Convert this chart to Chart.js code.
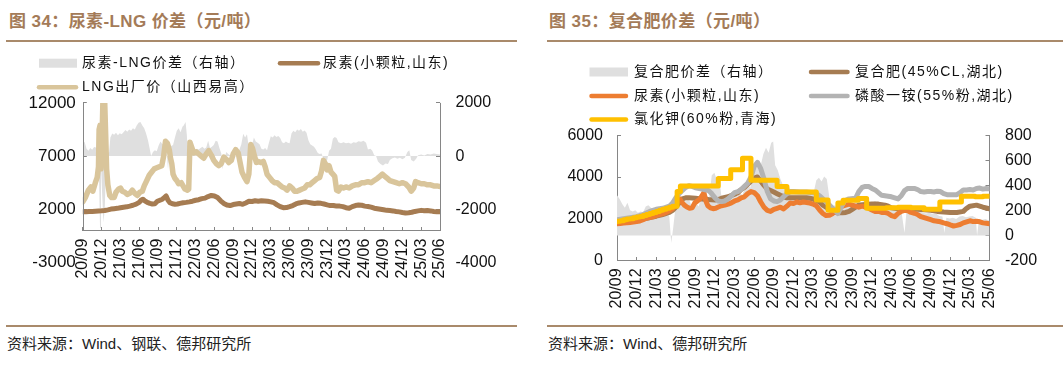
<!DOCTYPE html>
<html><head><meta charset="utf-8">
<script src="https://cdn.jsdelivr.net/npm/chart.js"></script>
<style>
html,body{margin:0;padding:0;background:#fff;}
body{width:1063px;height:366px;position:relative;overflow:hidden;font-family:"Liberation Sans","Noto Sans CJK SC",sans-serif;}
.title{position:absolute;top:12px;font-size:17px;font-weight:bold;color:#a47b58;white-space:nowrap;line-height:20px;letter-spacing:0.4px;}
.rule{position:absolute;height:2px;background:#a98a6b;}
.src{position:absolute;top:335px;font-size:15px;color:#222;white-space:nowrap;line-height:18px;}
canvas{position:absolute;}
</style></head>
<body>
<div class="title" style="left:9px">图 34：尿素-LNG 价差（元/吨）</div>
<div class="rule" style="left:6px;width:511px;top:40px"></div>
<div class="rule" style="left:6px;width:511px;top:325px"></div>
<div class="src" style="left:7px">资料来源：Wind、钢联、德邦研究所</div>
<div class="title" style="left:549px">图 35：复合肥价差（元/吨）</div>
<div class="rule" style="left:547px;width:516px;top:40px"></div>
<div class="rule" style="left:547px;width:516px;top:325px"></div>
<div class="src" style="left:548px">资料来源：Wind、德邦研究所</div>
<canvas id="c1" width="530" height="270" style="left:0;top:45px"></canvas>
<canvas id="c2" width="533" height="270" style="left:530px;top:45px"></canvas>
<script>
// x values are months since 2020-09
const tickLabels = ['20/09','20/12','21/03','21/06','21/09','21/12','22/03','22/06','22/09','22/12','23/03','23/06','23/09','23/12','24/03','24/06','24/09','24/12','25/03','25/06'];

const ureaSD = [[0,1760],[0.5,1770],[1,1790],[1.5,1800],[2,1820],[2.5,1840],[3,1860],[3.5,1890],[4,1950],[4.5,2020],[5,2060],[5.5,2090],[6,2150],[6.5,2200],[7,2230],[7.5,2300],[8,2380],[8.5,2480],[9,2650],[9.3,2850],[9.6,2950],[9.9,2800],[10.3,2650],[10.7,2560],[11.1,2500],[11.5,2520],[11.9,2750],[12.3,2850],[12.7,2950],[13.0,3100],[13.3,3250],[13.6,2850],[13.9,2620],[14.3,2520],[14.7,2480],[15.1,2500],[15.5,2560],[16.0,2620],[16.5,2650],[17.0,2700],[17.5,2760],[18.0,2850],[18.5,2900],[19.0,3000],[19.5,3050],[20.0,3200],[20.5,3300],[21.0,3250],[21.5,3100],[22.0,2800],[22.5,2550],[23.0,2400],[23.5,2350],[24.0,2450],[24.5,2500],[25.0,2550],[25.5,2470],[26.0,2600],[26.5,2750],[27.0,2730],[27.5,2800],[28.0,2760],[28.5,2800],[29.0,2780],[29.5,2750],[30.0,2700],[30.5,2620],[31.0,2420],[31.5,2250],[32.0,2150],[32.5,2160],[33.0,2250],[33.5,2350],[34.0,2500],[34.5,2600],[35.0,2650],[35.5,2700],[36.0,2650],[36.5,2600],[37.0,2550],[37.5,2600],[38.0,2560],[38.5,2500],[39.0,2420],[39.5,2350],[40.0,2360],[40.5,2300],[41.0,2300],[41.5,2250],[42.0,2150],[42.5,2100],[43.0,2250],[43.5,2350],[44.0,2400],[44.5,2380],[45.0,2300],[45.5,2260],[46.0,2200],[46.5,2100],[47.0,2050],[47.5,2000],[48.0,1950],[48.5,1900],[49.0,1880],[49.5,1850],[50.0,1800],[50.5,1760],[51.0,1700],[51.5,1650],[52.0,1680],[52.5,1720],[53.0,1800],[53.5,1850],[54.0,1900],[54.5,1860],[55.0,1880],[55.5,1850],[56.0,1800],[56.5,1780],[57.0,1760]];

const lngSX = [[0,2700],[0.4,3100],[0.9,3800],[1.3,4100],[1.6,3700],[2.0,4500],[2.3,5000],[2.5,6000],[2.6,9500],[2.75,9900],[2.9,5800],[3.05,8000],[3.2,12000],[3.5,12000],[3.65,9000],[3.8,5800],[4.0,4300],[4.3,3300],[4.6,3100],[5.0,3100],[5.3,3600],[5.7,3900],[6.0,4000],[6.3,3700],[6.7,3600],[7.1,3400],[7.5,3500],[7.9,3800],[8.3,3500],[8.7,3300],[9.1,3600],[9.5,3700],[9.8,4200],[10.2,4700],[10.6,5200],[11.0,5500],[11.4,5800],[11.8,5900],[12.2,6000],[12.6,6100],[12.9,7000],[13.2,8400],[13.5,8200],[13.8,7600],[14.0,6800],[14.2,6300],[14.4,5300],[14.7,4900],[15.0,4700],[15.3,4400],[15.7,4500],[16.0,4200],[16.3,3900],[16.7,3800],[16.9,3900],[17.1,8300],[17.4,7800],[17.7,7300],[18.1,7400],[18.5,7200],[18.9,7000],[19.3,6800],[19.7,7200],[20.1,7500],[20.5,7100],[20.9,6600],[21.3,6300],[21.7,6100],[22.1,6300],[22.5,6900],[22.9,6700],[23.3,6400],[23.7,6600],[24.0,7200],[24.4,7600],[24.8,7300],[25.1,6400],[25.4,5500],[25.8,5000],[26.2,4600],[26.5,5300],[26.8,8100],[27.1,7700],[27.4,7000],[27.7,6400],[28.0,6500],[28.4,6400],[28.8,6500],[29.1,6000],[29.4,5300],[29.8,5000],[30.2,4700],[30.6,4500],[31.0,4500],[31.4,4300],[31.8,4100],[32.2,4000],[32.6,3800],[33.0,4200],[33.4,4000],[33.8,3700],[34.2,3700],[34.6,3800],[35.0,3900],[35.4,4000],[35.8,4300],[36.2,4300],[36.6,4500],[37.0,4700],[37.4,4900],[37.8,5000],[38.1,5600],[38.4,6600],[38.7,6300],[39.0,5700],[39.3,6100],[39.6,5500],[39.9,5300],[40.2,5100],[40.5,3800],[40.8,3700],[41.2,4100],[41.6,4000],[42.0,4100],[42.5,4000],[43.0,4200],[43.5,4300],[44.0,4300],[44.5,4500],[45.0,4500],[45.5,4600],[46.0,4500],[46.5,4700],[47.0,4900],[47.4,5100],[47.8,5300],[48.2,5100],[48.6,4900],[49.0,4700],[49.5,4600],[50.0,4500],[50.5,4400],[51.0,4500],[51.5,4400],[52.0,4100],[52.4,3700],[52.8,4000],[53.1,4600],[53.5,4500],[54.0,4400],[54.5,4400],[55.0,4300],[55.5,4300],[56.0,4200],[56.5,4200],[57.0,4150]];

const ureaLngSpread = [[0,580],[0.3,520],[0.6,280],[0.9,200],[1.2,300],[1.5,240],[1.8,340],[2.1,320],[2.4,200],[2.6,-900],[2.75,-2700],[2.9,-300],[3.1,-1500],[3.3,-2500],[3.5,-2000],[3.7,-500],[3.9,100],[4.2,150],[4.4,700],[4.7,850],[5.0,800],[5.3,880],[5.6,780],[5.9,860],[6.2,820],[6.5,900],[6.8,980],[7.1,920],[7.4,1000],[7.7,950],[8.0,1050],[8.3,1000],[8.6,1150],[8.9,1250],[9.2,1280],[9.5,1150],[9.8,1050],[10.1,850],[10.4,600],[10.7,250],[10.9,0],[11.2,150],[11.5,220],[11.8,180],[12.1,400],[12.4,550],[12.7,450],[13.0,500],[13.3,380],[13.6,-500],[13.8,100],[14.1,380],[14.4,420],[14.7,700],[15.0,950],[15.3,1050],[15.6,900],[15.9,1100],[16.1,1150],[16.4,1280],[16.6,800],[16.8,-100],[17.0,-50],[17.3,250],[17.6,300],[17.9,200],[18.2,280],[18.5,250],[18.8,300],[19.1,350],[19.4,280],[19.7,320],[20.0,580],[20.3,300],[20.6,350],[20.9,420],[21.2,580],[21.5,550],[21.8,300],[22.1,100],[22.3,-500],[22.6,-100],[22.9,150],[23.2,80],[23.5,30],[23.8,100],[24.1,50],[24.4,-20],[24.7,150],[25.0,250],[25.3,450],[25.6,840],[25.9,700],[26.2,820],[26.5,300],[26.7,-70],[27.0,400],[27.3,700],[27.6,550],[27.9,500],[28.2,450],[28.5,280],[28.8,250],[29.1,300],[29.4,220],[29.7,500],[30.0,750],[30.3,700],[30.6,780],[30.9,720],[31.2,760],[31.5,680],[31.8,520],[32.1,480],[32.4,550],[32.7,500],[33.0,480],[33.3,850],[33.6,950],[33.9,900],[34.2,1000],[34.5,950],[34.8,1020],[35.1,920],[35.4,960],[35.7,880],[36.0,600],[36.3,450],[36.6,400],[36.9,350],[37.2,250],[37.5,120],[37.8,80],[38.1,100],[38.4,-100],[38.7,-230],[39.0,-150],[39.3,200],[39.6,280],[39.9,650],[40.2,720],[40.5,680],[40.8,520],[41.2,480],[41.6,520],[42.0,480],[42.4,500],[42.8,460],[43.2,520],[43.6,500],[44.0,560],[44.4,540],[44.8,580],[45.2,500],[45.5,250],[45.9,280],[46.2,200],[46.5,30],[46.8,0],[47.1,-200],[47.5,-300],[47.9,-350],[48.3,-280],[48.7,-300],[49.0,-150],[49.4,-80],[49.8,-50],[50.2,-100],[50.6,-60],[51.0,-120],[51.4,-60],[51.8,150],[52.1,220],[52.4,-150],[52.8,-200],[53.2,-100],[53.5,30],[54.0,60],[54.5,20],[55.0,80],[55.5,60],[56.0,100],[56.5,80],[57.0,60]];

const compoundHB = [[0,1850],[1,1870],[2,1900],[3,1950],[4,2000],[5,2050],[6,2120],[7,2200],[8,2300],[8.5,2400],[9,2550],[9.5,2750],[10,2950],[10.5,3000],[11,3000],[12,2980],[13,2950],[14,2920],[15,2900],[15.5,2920],[16,2980],[17,3050],[18,3180],[18.5,3250],[19,3400],[19.5,3500],[20,3650],[20.5,3800],[21,3950],[21.5,4000],[22,3800],[22.5,3600],[23,3420],[23.5,3350],[24,3280],[24.5,3200],[25,3120],[25.5,3050],[26,3000],[27,3000],[28,3000],[29,3000],[29.5,2980],[30,2950],[30.5,2880],[31,2800],[31.5,2650],[32,2550],[32.5,2450],[33,2350],[33.5,2300],[34,2280],[34.5,2280],[35,2300],[35.5,2350],[36,2450],[36.5,2550],[37,2650],[38,2680],[39,2700],[40,2700],[41,2650],[41.5,2600],[42,2520],[43,2480],[44,2450],[45,2450],[46,2450],[47,2430],[48,2400],[49,2350],[50,2320],[51,2300],[52,2300],[53,2350],[53.5,2500],[54,2600],[55,2650],[56,2550],[57,2480]];

const mapHB = [[0,1950],[1,2000],[2,2050],[3,2100],[4,2200],[5,2350],[6,2450],[7,2500],[8,2600],[8.5,2750],[9,3000],[9.5,3200],[10,3350],[10.5,3500],[11,3580],[11.5,3550],[12,3480],[13,3420],[14,3350],[14.5,3200],[15,3000],[15.5,2850],[16,2820],[16.5,2850],[17,2950],[17.5,3100],[18,3250],[18.5,3300],[19,3400],[19.5,3550],[20,3700],[20.5,4000],[21,4500],[21.5,4700],[22,4400],[22.5,3900],[23,3300],[23.5,2950],[24,2850],[24.5,2820],[25,2900],[25.5,3050],[26,3200],[26.5,3300],[27,3300],[28,3280],[29,3280],[30,3250],[30.5,3200],[31,3100],[31.5,2950],[32,2800],[32.5,2650],[33,2500],[33.5,2350],[33.8,2250],[34.2,2500],[34.8,2850],[35.5,2950],[36.5,2980],[37,3300],[37.5,3500],[38,3550],[38.5,3550],[39,3450],[39.5,3380],[40,3250],[40.5,3120],[41,3100],[41.5,3080],[42,3050],[42.5,3000],[43,2950],[43.5,3100],[44,3350],[44.5,3450],[45,3450],[45.5,3450],[46,3400],[46.5,3300],[47,3280],[47.5,3300],[48,3300],[48.5,3280],[49,3320],[49.5,3300],[50,3200],[50.5,3150],[51,3150],[51.5,3150],[52,3150],[52.5,3250],[53,3380],[53.5,3380],[54,3400],[54.5,3380],[55,3450],[55.5,3470],[56,3420],[56.5,3450],[57,3430]];

const kclQH = [[0,1850],[0.5,1880],[1,1900],[1.5,1950],[2,1980],[2.5,2000],[3,2050],[3.5,2080],[4,2100],[4.5,2150],[5,2200],[5.5,2250],[6,2300],[6.5,2350],[7,2400],[7.5,2450],[8,2500],[8.5,2550],[9.2,2600],[9.7,3300],[15.5,3570],[17.4,3930],[19.2,4350],[20.5,4900],[24.5,3850],[26,3550],[30.5,3280],[32.3,2900],[33.8,2400],[34.6,2750],[36.9,2880],[38.2,2970],[41.2,2500],[43,2520],[45,2550],[47,2530],[49.4,2450],[52.7,2800],[54.8,3080],[56,3050],[57,3080]];

const compoundSpread = [[0,320],[0.4,290],[0.8,250],[1.2,220],[1.6,260],[2.0,200],[2.4,190],[2.8,200],[3.2,180],[3.6,190],[4.0,185],[4.4,230],[4.8,240],[5.2,220],[5.6,205],[6.0,210],[6.4,195],[6.8,210],[7.2,200],[7.6,180],[8.0,150],[8.3,-60],[8.6,60],[8.9,200],[9.3,210],[9.7,280],[10.1,290],[10.5,270],[10.9,300],[11.3,250],[11.7,240],[12.1,260],[12.5,230],[12.9,310],[13.3,280],[13.7,320],[14.1,300],[14.5,480],[14.9,500],[15.3,440],[15.6,480],[16.0,300],[16.4,280],[16.8,290],[17.2,270],[17.6,320],[18.0,330],[18.4,310],[18.8,340],[19.2,320],[19.6,400],[20.0,410],[20.4,380],[20.8,480],[21.2,520],[21.6,580],[22.0,560],[22.4,650],[22.8,700],[23.2,660],[23.6,740],[23.9,750],[24.2,560],[24.6,520],[25.0,450],[25.4,400],[25.8,380],[26.2,400],[26.6,360],[27.0,350],[27.5,340],[28.0,355],[28.5,330],[29.0,350],[29.5,340],[30.0,320],[30.5,440],[30.9,460],[31.3,430],[31.7,470],[32.1,450],[32.5,300],[32.9,230],[33.3,240],[33.7,220],[34.1,250],[34.5,260],[35.0,255],[35.5,265],[36.0,250],[36.5,270],[37.0,275],[37.5,265],[38.0,280],[38.5,270],[39.0,260],[39.5,275],[40.0,250],[40.5,240],[41.0,250],[41.5,240],[42.0,220],[42.5,210],[43.0,215],[43.5,200],[44.0,20],[44.3,190],[44.8,195],[45.3,185],[45.8,200],[46.3,190],[46.8,180],[47.3,175],[47.8,180],[48.3,170],[48.8,175],[49.3,155],[49.8,150],[50.1,20],[50.4,140],[50.9,135],[51.4,140],[51.9,130],[52.4,150],[52.9,155],[53.4,145],[53.9,150],[54.4,155],[54.9,140],[55.1,0],[55.4,130],[55.9,125],[56.4,130],[56.8,120],[57.0,125]];

const FONT = "'Liberation Sans', Arial, sans-serif";
const AX = '#868686';
const toXY = arr => arr.map(p => ({x: p[0], y: p[1]}));

const legendPlugin = {
  id: 'panelLegend',
  afterDraw(chart, args, opts) {
    const ctx = chart.ctx;
    ctx.save();
    ctx.font = opts.font;
    ctx.textBaseline = 'middle';
    ctx.textAlign = 'left';
    if ('letterSpacing' in ctx) ctx.letterSpacing = opts.letterSpacing;
    opts.items.forEach(it => {
      const ds = chart.data.datasets[it.index];
      if (ds.fill) {
        ctx.fillStyle = ds.backgroundColor;
        ctx.fillRect(it.x1, it.y - 4.5, it.x2 - it.x1, 9);
      } else {
        ctx.strokeStyle = ds.borderColor;
        ctx.lineWidth = 4.5;
        ctx.lineCap = 'round';
        ctx.beginPath();
        ctx.moveTo(it.x1 + 2, it.y);
        ctx.lineTo(it.x2 - 2, it.y);
        ctx.stroke();
      }
      ctx.fillStyle = '#111';
      ctx.fillText(ds.label, it.tx, it.y);
    });
    ctx.restore();
  }
};

const axisStubPlugin = {
  id: 'axisStub',
  afterDatasetsDraw(chart, args, opts) {
    if (!opts.enabled) return;
    const {ctx, chartArea, scales} = chart;
    const yBase = scales.y.getPixelForValue(0);
    ctx.save();
    ctx.strokeStyle = AX;
    ctx.lineWidth = 1;
    [chartArea.left, chartArea.right].forEach(x => {
      const xx = Math.round(x) + 0.5;
      ctx.beginPath();
      ctx.moveTo(xx, chartArea.top);
      ctx.lineTo(xx, yBase);
      ctx.stroke();
    });
    ctx.restore();
  }
};

function xScale() {
  return {
    type: 'linear', axis: 'x', position: {y: 0}, min: 0, max: 57,
    ticks: {stepSize: 3, autoSkip: false, minRotation: 90, maxRotation: 90, padding: 12, color: '#111',
      font: {family: FONT, size: 16}, callback: v => tickLabels[Math.round(v / 3)]},
    grid: {drawOnChartArea: false, drawTicks: true, tickLength: -4, color: AX, lineWidth: 1},
    border: {display: true, color: AX, width: 1},
    afterFit: s => { s.height = 0; }
  };
}
function yScale(pos, min, max, step, pad, width, showBorder, hideFirstTick, size) {
  return {
    type: 'linear', axis: 'y', position: pos, min, max,
    ticks: {stepSize: step, padding: pad, color: '#111', font: {family: FONT, size: size}, callback: v => String(v)},
    grid: {drawOnChartArea: false, drawTicks: true, tickLength: -4, lineWidth: 1,
      color: c => (hideFirstTick && c.index === 0) ? 'rgba(0,0,0,0)' : AX},
    border: {display: showBorder, color: AX, width: 1},
    afterFit: s => { s.width = width; }
  };
}
function areaDs(label, data, axis) {
  return {label, data: toXY(data), yAxisID: axis, fill: 'origin', backgroundColor: '#dfdfdf',
    borderColor: 'rgba(0,0,0,0)', borderWidth: 0, pointRadius: 0, order: 10};
}
function lineDs(label, data, color, width, axis, order, stepped) {
  return {label, data: toXY(data), yAxisID: axis, fill: false, borderColor: color, backgroundColor: color,
    borderWidth: width, pointRadius: 0, borderJoinStyle: 'round', borderCapStyle: 'round', order, stepped: stepped || false};
}

Chart.defaults.font.family = FONT;

new Chart(document.getElementById('c1'), {
  type: 'line',
  data: {datasets: [
    areaDs('尿素-LNG价差（右轴）', ureaLngSpread, 'y1'),
    lineDs('尿素(小颗粒,山东)', ureaSD, '#a67c52', 5, 'y', 2),
    lineDs('LNG出厂价（山西易高）', lngSX, '#d9c59b', 5.5, 'y', 1)
  ]},
  options: {
    responsive: false, animation: false, devicePixelRatio: 1,
    layout: {padding: {top: 57.9, bottom: 52.5, left: 0, right: 0}},
    scales: {
      x: xScale(),
      y: yScale('left', -3000, 12000, 5000, 11, 82.8, false, true, 17),
      y1: yScale('right', -4000, 2000, 2000, 19.5, 90, false, true, 16)
    },
    plugins: {
      legend: {display: false}, tooltip: {enabled: false},
      axisStub: {enabled: true},
      panelLegend: {font: "14px 'Liberation Sans', 'Noto Sans CJK SC', sans-serif", letterSpacing: '1.5px', items: [
        {index: 0, x1: 39, x2: 77, y: 18.2, tx: 82},
        {index: 1, x1: 278, x2: 320, y: 18.2, tx: 323},
        {index: 2, x1: 37, x2: 78, y: 42.2, tx: 82}
      ]}
    }
  },
  plugins: [legendPlugin, axisStubPlugin]
});

new Chart(document.getElementById('c2'), {
  type: 'line',
  data: {datasets: [
    areaDs('复合肥价差（右轴）', compoundSpread, 'y1'),
    lineDs('复合肥(45%CL,湖北)', compoundHB, '#a67c52', 5, 'y', 4),
    lineDs('尿素(小颗粒,山东)', ureaSD, '#ed7d31', 5, 'y', 3),
    lineDs('磷酸一铵(55%粉,湖北)', mapHB, '#b3b3b3', 5, 'y', 2),
    lineDs('氯化钾(60%粉,青海)', kclQH, '#ffc000', 5, 'y', 1, 'after')
  ]},
  options: {
    responsive: false, animation: false, devicePixelRatio: 1,
    layout: {padding: {top: 90.3, bottom: 54.6, left: 0, right: 0}},
    scales: {
      x: xScale(),
      y: yScale('left', 0, 6000, 2000, 18, 87, true, false, 16),
      y1: yScale('right', -200, 800, 200, 19.5, 73.5, true, false, 16)
    },
    plugins: {
      legend: {display: false}, tooltip: {enabled: false},
      axisStub: {enabled: false},
      panelLegend: {font: "14px 'Liberation Sans', 'Noto Sans CJK SC', sans-serif", letterSpacing: '1.5px', items: [
        {index: 0, x1: 59.5, x2: 98, y: 27, tx: 104},
        {index: 1, x1: 279, x2: 319.5, y: 27, tx: 325},
        {index: 2, x1: 59.5, x2: 98, y: 51, tx: 104},
        {index: 3, x1: 279, x2: 319.5, y: 51, tx: 325},
        {index: 4, x1: 59.5, x2: 98, y: 74.6, tx: 104}
      ]}
    }
  },
  plugins: [legendPlugin, axisStubPlugin]
});
</script>
</body></html>
